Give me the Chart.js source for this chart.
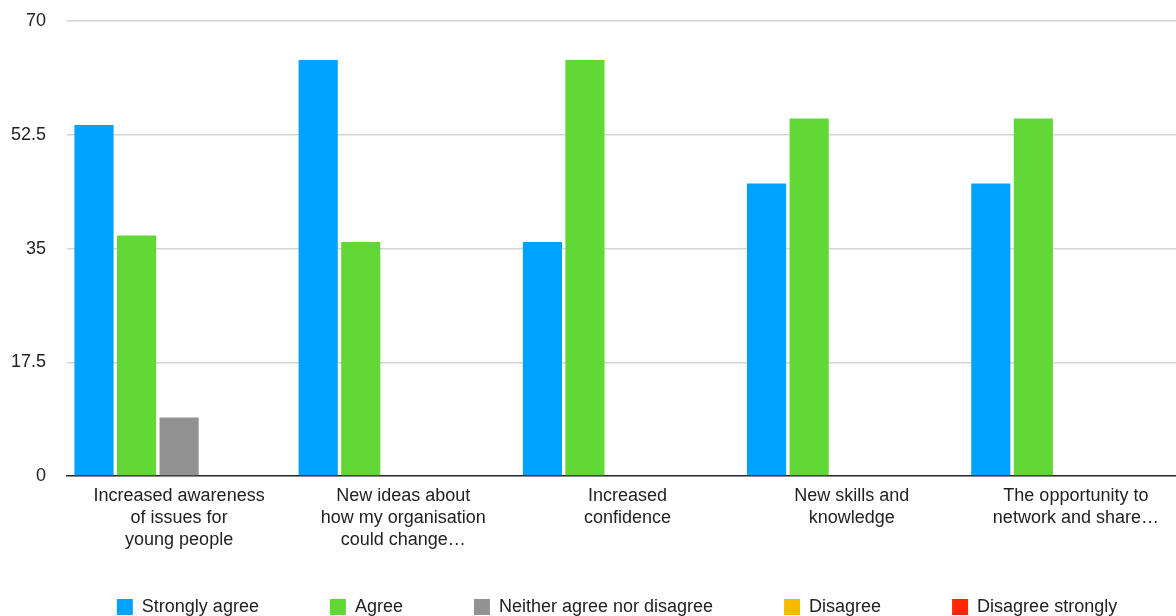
<!DOCTYPE html>
<html>
<head>
<meta charset="utf-8">
<script src="https://cdn.jsdelivr.net/npm/chart.js@4"></script>
<style>
  html, body { margin: 0; padding: 0; background: #fff; overflow: hidden; }
  #wrap { width: 1240px; height: 659px; }
</style>
</head>
<body>
<div id="wrap"><canvas id="chart_survey" width="1240" height="659"></canvas></div>
<script>
// categories (x labels, already wrapped like the original)
const categories = [
    ['Increased awareness', 'of issues for', 'young people'],
    ['New ideas about', 'how my organisation', 'could change…'],
    ['Increased', 'confidence'],
    ['New skills and', 'knowledge'],
    ['The opportunity to', 'network and share…']
]

const seriesNames = ['Strongly agree', 'Agree', 'Neither agree nor disagree', 'Disagree', 'Disagree strongly']
const seriesColors = ['#00a2ff', '#61d836', '#929292', '#f8ba00', '#ff2600']

const stronglyAgree = [54, 64, 36, 45, 45]
const agree = [37, 36, 64, 55, 55]
const neither = [9, 0, 0, 0, 0]
const disagree = [0, 0, 0, 0, 0]
const disagreeStrongly = [0, 0, 0, 0, 0]

const yTicks = [0, 17.5, 35, 52.5, 70]

const seriesValues = [stronglyAgree, agree, neither, disagree, disagreeStrongly]

const fontFamily = '"Liberation Sans", Arial, Helvetica, sans-serif'

// the legend keeps wide gaps between items but sits closer to the axis labels
const legendShift = {
    id: 'legendShift',
    afterLayout(chart) {
        const lg = chart.legend
        const h = lg.height
        lg.top = 527
        lg.bottom = 527 + h
        lg.left += 19
        lg.right += 19
    }
}

var config = {
    type: 'bar',
    data: {
        labels: categories,
        datasets: seriesNames.map((name, i) => ({
            label: name,
            data: seriesValues[i],
            backgroundColor: seriesColors[i],
            borderWidth: 0,
            categoryPercentage: 0.949,
            barPercentage: 0.92
        }))
    },
    options: {
        responsive: false,
        animation: false,
        layout: {
            padding: { left: 8, right: 52, top: 0, bottom: 0 }
        },
        plugins: {
            tooltip: { enabled: false },
            legend: {
                position: 'bottom',
                labels: {
                    boxWidth: 16,
                    boxHeight: 16,
                    padding: 71,
                    color: '#222',
                    font: { family: fontFamily, size: 18 }
                }
            }
        },
        scales: {
            x: {
                grid: { display: false, drawTicks: false },
                border: { display: true, color: '#2a2a2a', width: 1.6 },
                ticks: {
                    color: '#222',
                    padding: 9,
                    maxRotation: 0,
                    autoSkip: false,
                    font: { family: fontFamily, size: 18, lineHeight: 1.22 }
                }
            },
            y: {
                min: 0,
                max: 70,
                afterBuildTicks: (scale) => {
                    scale.ticks = yTicks.map(v => ({ value: v }))
                },
                afterFit: (scale) => {
                    scale.width = 59
                    scale.paddingTop = 21
                },
                grid: { color: '#d4d4d4', lineWidth: 1.5, drawTicks: false },
                border: { display: false },
                ticks: {
                    color: '#222',
                    padding: 21,
                    font: { family: fontFamily, size: 18 }
                }
            }
        }
    },
    plugins: [legendShift]
};

var ctx = document.getElementById('chart_survey').getContext('2d');
window.surveyChart = new Chart(ctx, config);
</script>
</body>
</html>
